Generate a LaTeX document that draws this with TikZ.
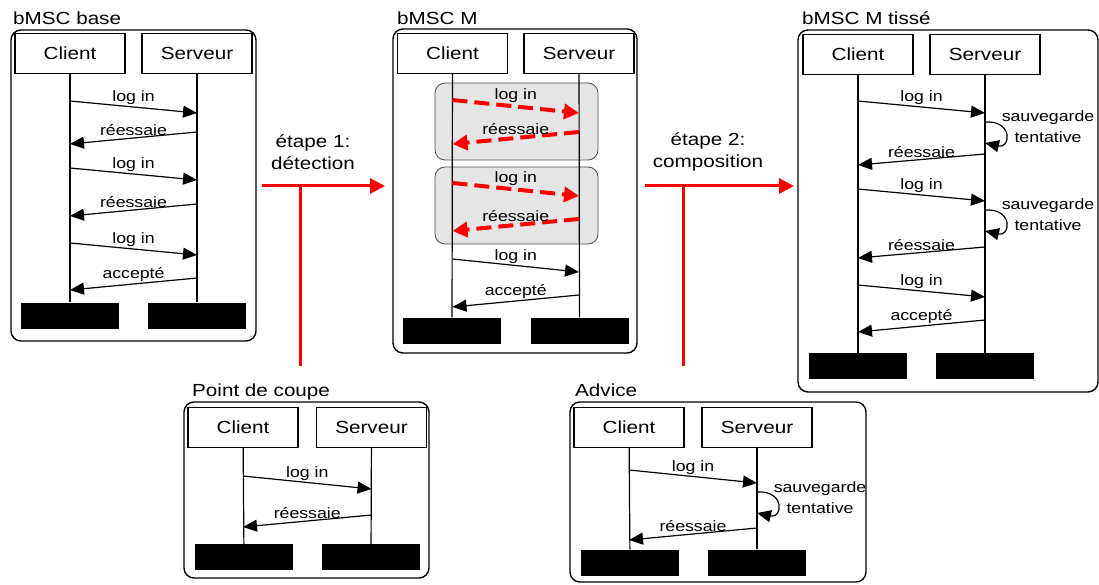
\documentclass[tikz,border=0pt]{standalone}
\usepackage{fontspec}
\setmainfont[FakeStretch=1.18]{Liberation Sans}
\usetikzlibrary{arrows.meta}

\begin{document}
\begin{tikzpicture}[
        x=1pt,   % une unité = un pixel
        y=-1pt,  % l'axe y descend
        grand/.style={font=\fontsize{17.5}{22}\selectfont},
        petit/.style={font=\fontsize{15}{21}\selectfont},
        cadre/.style={draw, line width=1.4pt, rounded corners=10pt},
        titre/.style={anchor=base west, inner sep=0pt, grand},
        tete/.style={draw, line width=1.2pt, minimum width=110pt, minimum height=40pt, inner sep=0pt, grand},
        barre/.style={fill=black, minimum width=98pt, minimum height=26pt, inner sep=0pt},
        vie/.style={line width=1.2pt},
        msg/.style={line width=1.2pt, -{Triangle[length=14pt,width=12pt]}},
        msgrouge/.style={red, line width=4pt, dash pattern=on 15pt off 7pt, -{Triangle[length=15pt,width=15pt]}},
        lbl/.style={midway, above, inner sep=1.5pt, petit, text=black},
        gris/.style={draw=black!70, fill=black!10, line width=0.8pt, rounded corners=10pt},
        etape/.style={red, line width=3pt}
    ]
    \useasboundingbox (0,0) rectangle (1099,585);

    % bMSC base
    \draw[cadre] (11,30) rectangle (256,341);
    \node[titre] (n1) at (13,25) {bMSC base};
    \node[tete] (c1) at (70,53.5) {Client};
    \node[tete] (s1) at (197,53.5) {Serveur};
    \node[barre] (c1b) at (70,315.5) {};
    \node[barre] (s1b) at (197,315.5) {};
    \draw[vie] (c1) -- (c1b);
    \draw[vie] (s1) -- (s1b);
    \foreach \a/\b/\r in {101/132/réessaie, 168/204/réessaie, 243/278/accepté} {
        \draw[msg] (c1 |- 0,\a) -- (s1 |- 0,\a+12) node[lbl] {log in};
        \draw[msg] (s1 |- 0,\b) -- (c1 |- 0,\b+12) node[lbl] {\r};
    }

    % bMSC M
    \draw[cadre] (393,29) rectangle (637,353);
    \node[titre] (n2) at (397,25) {bMSC M};
    \node[tete] (c2) at (452.5,53.5) {Client};
    \node[tete] (s2) at (579,53.5) {Serveur};
    \draw[gris] (435,83) rectangle (598,160);
    \draw[gris] (435,167) rectangle (598,244);
    \node[barre] (c2b) at (452,330.5) {};
    \node[barre] (s2b) at (579.5,330.5) {};
    \draw[vie] (c2) -- (c2b);
    \draw[vie] (s2) -- (s2b);
    \foreach \a/\b in {100/132, 183/219} {
        \draw[msgrouge] (c2 |- 0,\a) -- (s2 |- 0,\a+13) node[lbl] {log in};
        \draw[msgrouge] (s2 |- 0,\b) -- (c2 |- 0,\b+12) node[lbl] {réessaie};
    }
    \draw[msg] (c2 |- 0,259) -- (s2 |- 0,272) node[lbl] {log in};
    \draw[msg] (s2 |- 0,295) -- (c2 |- 0,307) node[lbl] {accepté};

    % bMSC M tissé
    \draw[cadre] (798,30) rectangle (1098,392);
    \node[titre] (n3) at (802,25) {bMSC M tissé};
    \node[tete] (c3) at (858,54.5) {Client};
    \node[tete] (s3) at (985,54.5) {Serveur};
    \node[barre] (c3b) at (858,366) {};
    \node[barre] (s3b) at (985,366) {};
    \draw[vie] (c3) -- (c3b);
    \draw[vie] (s3) -- (s3b);
    \foreach \a/\b in {101/154, 189/247} {
        \draw[msg] (c3 |- 0,\a) -- (s3 |- 0,\a+12) node[lbl] {log in};
        \draw[msg] (s3 |- 0,\a+21) .. controls +(28,-2) and +(26,6) .. (s3 |- 0,\a+42);
        \node[petit, align=center] at (1048,\a+26) {sauvegarde\\tentative};
        \draw[msg] (s3 |- 0,\b) -- (c3 |- 0,\b+11) node[lbl] {réessaie};
    }
    \draw[msg] (c3 |- 0,285) -- (s3 |- 0,297) node[lbl] {log in};
    \draw[msg] (s3 |- 0,320) -- (c3 |- 0,332) node[lbl] {accepté};

    % Point de coupe
    \draw[cadre] (184,402) rectangle (429,578);
    \node[titre] (n4) at (192,396) {Point de coupe};
    \node[tete] (c4) at (243,427.5) {Client};
    \node[tete] (s4) at (371.5,427.5) {Serveur};
    \node[barre] (c4b) at (244,557) {};
    \node[barre] (s4b) at (371,557) {};
    \draw[vie] (c4) -- (c4b);
    \draw[vie] (s4) -- (s4b);
    \draw[msg] (c4 |- 0,476) -- (s4 |- 0,489) node[lbl] {log in};
    \draw[msg] (s4 |- 0,515) -- (c4 |- 0,527) node[lbl] {réessaie};

    % Advice
    \draw[cadre] (570,402) rectangle (866,582);
    \node[titre] (n5) at (575,396) {Advice};
    \node[tete] (c5) at (629,427.5) {Client};
    \node[tete] (s5) at (757,427.5) {Serveur};
    \node[barre] (c5b) at (630,562.5) {};
    \node[barre] (s5b) at (757,562.5) {};
    \draw[vie] (c5) -- (c5b);
    \draw[vie] (s5) -- (s5b);
    \draw[msg] (c5 |- 0,470) -- (s5 |- 0,483) node[lbl] {log in};
    \draw[msg] (s5 |- 0,492) .. controls +(28,-2) and +(26,6) .. (s5 |- 0,513);
    \node[petit, align=center] (sv5) at (820,498) {sauvegarde\\tentative};
    \draw[msg] (s5 |- 0,528) -- (c5 |- 0,540) node[lbl] {réessaie};

    % étapes
    \coordinate (e1a) at (262,186);
    \coordinate (e1b) at (385,186);
    \coordinate (e1h) at (300,186);
    \coordinate (e1v) at (300,366);
    \draw[etape, -{Triangle[length=15pt,width=15pt]}] (e1a) -- (e1b);
    \draw[etape] (e1h) -- (e1v);
    \node[grand, align=center] (t1) at (313,152) {étape 1:\\détection};

    \coordinate (e2a) at (645,186);
    \coordinate (e2b) at (794,186);
    \coordinate (e2h) at (683,186);
    \coordinate (e2v) at (683,366);
    \draw[etape, -{Triangle[length=15pt,width=15pt]}] (e2a) -- (e2b);
    \draw[etape] (e2h) -- (e2v);
    \node[grand, align=center] (t2) at (708,152) {étape 2:\\composition};
\end{tikzpicture}
\end{document}
